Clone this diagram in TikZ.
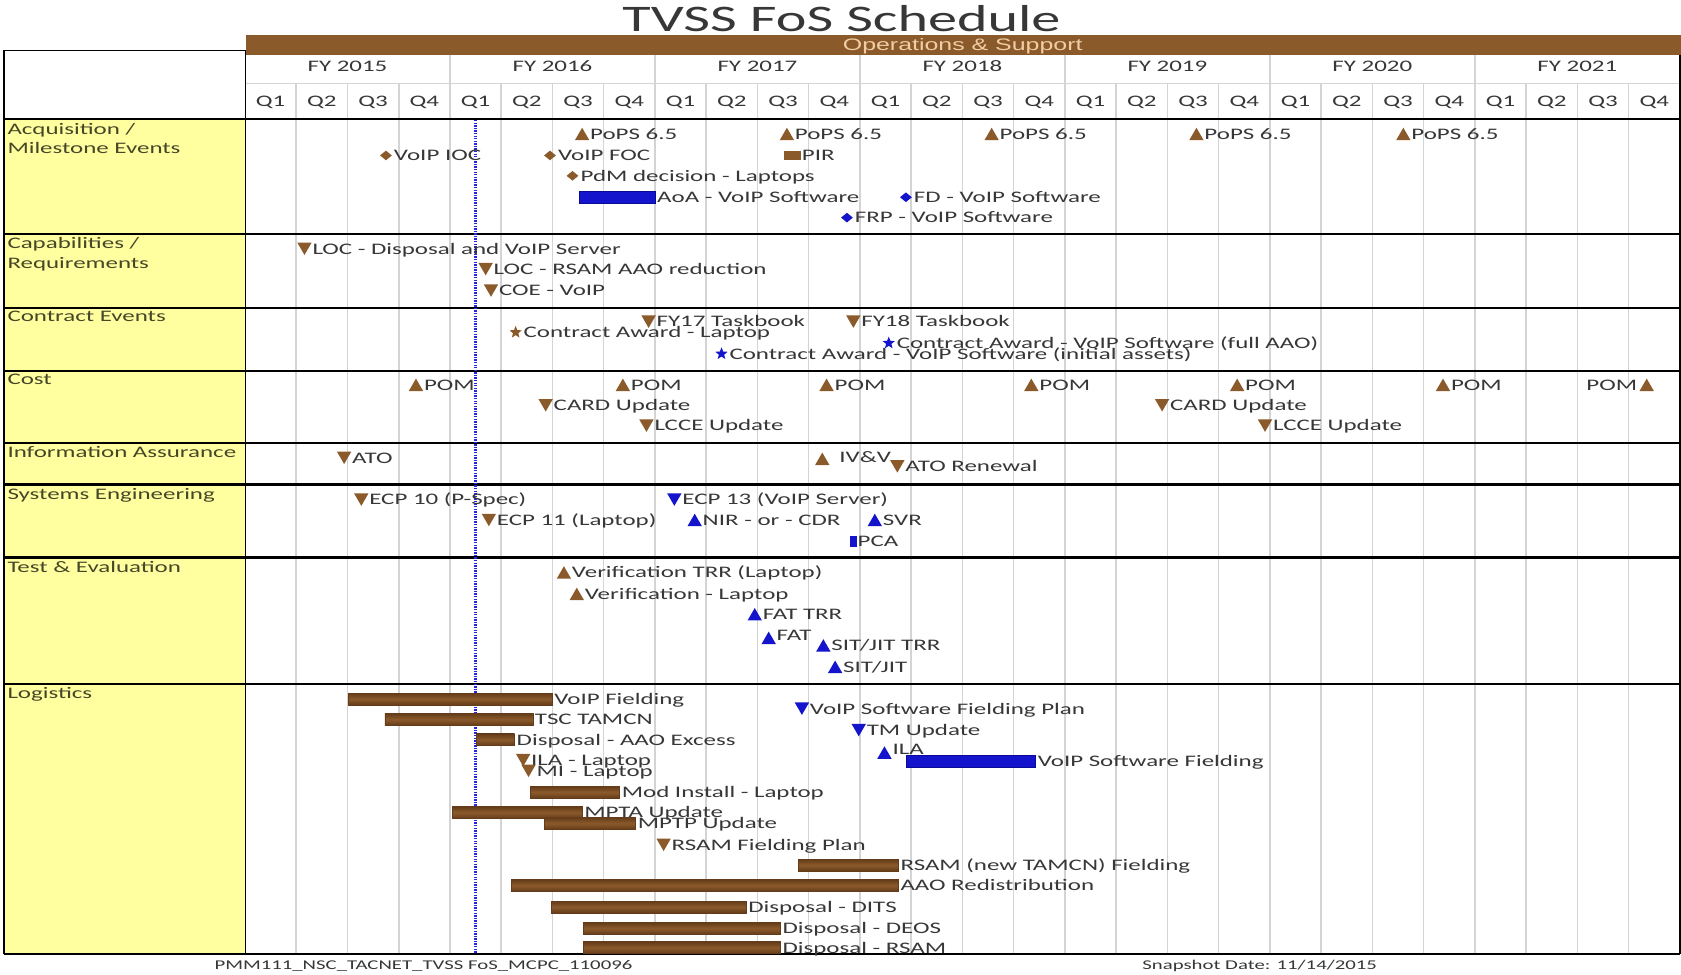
\documentclass[tikz,border=0pt]{standalone}
\usepackage{fontspec}
\setmainfont{Carlito}[FakeStretch=1.55]
\newfontfamily\arialx{Liberation Sans}[FakeStretch=1.5]
\usetikzlibrary{shapes.geometric}
\definecolor{brn}{RGB}{139,90,43}
\definecolor{brnD}{RGB}{100,60,25}
\definecolor{blu}{RGB}{20,20,205}
\definecolor{bluD}{RGB}{10,10,150}
\definecolor{dotblu}{RGB}{35,35,225}
\definecolor{yel}{RGB}{255,255,160}
\definecolor{txt}{RGB}{55,55,55}
\definecolor{rowtxt}{RGB}{70,70,40}
\definecolor{gridc}{RGB}{212,212,212}
\definecolor{bandtxt}{RGB}{240,205,165}
\newcommand\fs{\fontsize{15}{18}\selectfont}
\newcommand\evt[5]{%
  \node[#2] (#1) at (#3,#4) {};
  \node[lbl] (#1-t) at (#3+7.5,#4+5) {#5};}
\newcommand\evbar[6]{%
  \node[#2, minimum width={#4-#3}, anchor=west] (#1) at (#3,#5) {};
  \node[lbl] (#1-t) at (#4+2,#5+5) {#6};}
\begin{document}
\begin{tikzpicture}[x=1pt,y=-1pt,
  every node/.style={inner sep=0pt, outer sep=0pt},
  lbl/.style={anchor=base west, font=\fs, text=txt},
  rowlbl/.style={anchor=base west, font=\fs, text=rowtxt},
  tu/.style={regular polygon, regular polygon sides=3, minimum size=15.5pt, fill=brn, yshift=-1.9pt},
  td/.style={regular polygon, regular polygon sides=3, regular polygon rotate=180, minimum size=15.5pt, fill=brn, yshift=1.9pt},
  tub/.style={tu, fill=blu},
  tdb/.style={td, fill=blu},
  dm/.style={diamond, minimum width=11pt, minimum height=9pt, fill=brn},
  dmb/.style={dm, fill=blu},
  st/.style={star, star points=5, star point ratio=2.3, minimum size=12pt, fill=brn},
  stb/.style={st, fill=blu},
  bbar/.style={rectangle, minimum height=11pt, top color=brnD, bottom color=brnD, middle color=brn, draw=brnD, line width=0.6pt},
  ubar/.style={rectangle, minimum height=11pt, fill=blu, draw=bluD, line width=0.5pt},
  gridl/.style={draw=gridc, line width=1.5pt},
  rowl/.style={draw=black, line width=2.2pt}]
\useasboundingbox (0,0) rectangle (1568,909);
\fill[white] (0,0) rectangle (1568,909);
% title
\node[font=\fontsize{35}{40}\selectfont, text=txt, anchor=base] (title) at (785,29) {TVSS FoS Schedule};
% band
\node[fill=brn, minimum width=1339pt, minimum height=18pt, anchor=north west] (band) at (229,33) {};
\node[font=\arialx\fontsize{15.5}{18}\selectfont, text=bandtxt, anchor=base] (ops) at (898,47) {Operations \& Support};
% yellow column
\fill[yel] (4,111) rectangle (229,890);
% grid
\foreach \k in {1,...,27} \draw[gridl] (228.5+47.8*\k,78) -- (228.5+47.8*\k,890);
\foreach \k in {4,8,...,24} \draw[gridl] (228.5+47.8*\k,51) -- (228.5+47.8*\k,78);
\draw[gridl] (229,78) -- (1567,78);
% FY and Q labels
\foreach \i in {0,...,6} {
  \pgfmathtruncatemacro\yr{2015+\i}
  \node[font=\fs, text=txt, anchor=base] (fy\i) at (228.5+47.8*4*\i+47.8*2,67) {FY \yr};
  \foreach \q in {1,...,4}
    \node[font=\fs, text=txt, anchor=base] (q\i\q) at (228.5+47.8*4*\i+47.8*\q-23.9,99) {Q\q};
}
% row lines and borders
\foreach \yy in {111,218,287,346,413,452,520,638,890} \draw[rowl] (4,\yy) -- (1567,\yy);
\draw[black, line width=1.5pt] (4,47) rectangle (229,111);
\draw[black, line width=1.5pt] (4,111) -- (4,890);
\draw[black, line width=1.8pt] (229,47) -- (229,890);
\draw[black, line width=1.5pt] (1567,51) -- (1567,890);
% row labels
\node[rowlbl] (r1a) at (7,125) {Acquisition /};
\node[rowlbl] (r1b) at (7,143) {Milestone Events};
\node[rowlbl] (r2a) at (7,232) {Capabilities /};
\node[rowlbl] (r2b) at (7,250) {Requirements};
\node[rowlbl] (r3) at (7,300) {Contract Events};
\node[rowlbl] (r4) at (7,359) {Cost};
\node[rowlbl] (r5) at (7,427) {Information Assurance};
\node[rowlbl] (r6) at (7,466) {Systems Engineering};
\node[rowlbl] (r7) at (7,534) {Test \& Evaluation};
\node[rowlbl] (r8) at (7,652) {Logistics};
% snapshot line
\draw[dotblu, dash pattern=on 1.3pt off 1.1pt, line width=2pt] (443.5,112) -- (443.5,889);
% Acquisition / Milestone
\evt{a1}{tu}{543}{125}{PoPS 6.5}
\evt{a2}{tu}{734}{125}{PoPS 6.5}
\evt{a3}{tu}{925}{125}{PoPS 6.5}
\evt{a4}{tu}{1116}{125}{PoPS 6.5}
\evt{a5}{tu}{1309}{125}{PoPS 6.5}
\evt{a6}{dm}{360}{145}{VoIP IOC}
\evt{a7}{dm}{513}{145}{VoIP FOC}
\node[fill=brn, minimum width=16pt, minimum height=8pt] (a8) at (739,145) {};
\node[lbl] (a8-t) at (748,150) {PIR};
\evt{a9}{dm}{534}{164}{PdM decision - Laptops}
\evbar{a10}{ubar}{540}{611}{184}{AoA - VoIP Software}
\evt{a11}{dmb}{845}{184}{FD - VoIP Software}
\evt{a12}{dmb}{790}{203}{FRP - VoIP Software}
% Capabilities
\evt{c1}{td}{284}{232}{LOC - Disposal and VoIP Server}
\evt{c2}{td}{453}{251}{LOC - RSAM AAO reduction}
\evt{c3}{td}{458}{271}{COE - VoIP}
% Contract events
\evt{k1}{td}{605}{300}{FY17 Taskbook}
\evt{k2}{td}{796}{300}{FY18 Taskbook}
\evt{k3}{st}{481}{310}{Contract Award - Laptop}
\evt{k4}{stb}{829}{320}{Contract Award - VoIP Software (full AAO)}
\evt{k5}{stb}{673}{330}{Contract Award - VoIP Software (initial assets)}
% Cost
\evt{m1}{tu}{388}{359}{POM}
\evt{m2}{tu}{581}{359}{POM}
\evt{m3}{tu}{771}{359}{POM}
\evt{m4}{tu}{962}{359}{POM}
\evt{m5}{tu}{1154}{359}{POM}
\evt{m6}{tu}{1346}{359}{POM}
\node[tu] (m7) at (1536,359) {};
\node[lbl, anchor=base east] (m7-t) at (1527,364) {POM};
\evt{m8}{td}{509}{378}{CARD Update}
\evt{m9}{td}{1084}{378}{CARD Update}
\evt{m10}{td}{603}{397}{LCCE Update}
\evt{m11}{td}{1180}{397}{LCCE Update}
% Information Assurance
\evt{i1}{td}{321}{427}{ATO}
\node[tu] (i2) at (767,428) {};
\node[lbl] (i2-t) at (783,431) {IV\&V};
\evt{i3}{td}{837}{435}{ATO Renewal}
% Systems Engineering
\evt{s1}{td}{337}{466}{ECP 10 (P-Spec)}
\evt{s2}{td}{456}{485}{ECP 11 (Laptop)}
\evt{s3}{tdb}{629}{466}{ECP 13 (VoIP Server)}
\evt{s4}{tub}{648}{485}{NIR - or - CDR}
\evt{s5}{tub}{816}{485}{SVR}
\node[fill=blu, minimum width=6pt, minimum height=11pt] (s6) at (796,505) {};
\node[lbl] (s6-t) at (800,510) {PCA};
% Test & Evaluation
\evt{t1}{tu}{526}{534}{Verification TRR (Laptop)}
\evt{t2}{tu}{538}{554}{Verification - Laptop}
\evt{t3}{tub}{704}{573}{FAT TRR}
\node[tub] (t4) at (717,595) {};
\node[lbl] (t4-t) at (724.5,597) {FAT};
\evt{t5}{tub}{768}{602}{SIT/JIT TRR}
\evt{t6}{tub}{779}{622}{SIT/JIT}
% Logistics
\evbar{l1}{bbar}{325}{515}{652}{VoIP Fielding}
\evbar{l2}{bbar}{359}{497}{671}{TSC TAMCN}
\evbar{l3}{bbar}{444}{480}{690}{Disposal - AAO Excess}
\evt{l4}{td}{488}{709}{ILA - Laptop}
\evt{l5}{td}{493}{719}{MI - Laptop}
\evbar{l6}{bbar}{495}{578}{739}{Mod Install - Laptop}
\evbar{l7}{bbar}{422}{543}{758}{MPTA Update}
\evbar{l8}{bbar}{508}{593}{768}{MPTP Update}
\evt{l9}{td}{619}{788}{RSAM Fielding Plan}
\evbar{l10}{bbar}{745}{838}{807}{RSAM (new TAMCN) Fielding}
\evbar{l11}{bbar}{477}{838}{826}{AAO Redistribution}
\evbar{l12}{bbar}{514}{696}{846}{Disposal - DITS}
\evbar{l13}{bbar}{544}{728}{866}{Disposal - DEOS}
\evbar{l14}{bbar}{544}{728}{884}{Disposal - RSAM}
\evt{l15}{tdb}{748}{661}{VoIP Software Fielding Plan}
\evt{l16}{tdb}{801}{681}{TM Update}
\node[tub] (l17) at (825,702) {};
\node[lbl] (l17-t) at (832.5,704) {ILA};
\evbar{l18}{ubar}{845}{966}{710}{VoIP Software Fielding}
% footer
\node[font=\fontsize{12.5}{14}\selectfont, text=txt, anchor=base] (foot1) at (395,904) {PMM111\_NSC\_TACNET\_TVSS FoS\_MCPC\_110096};
\node[font=\fontsize{12.5}{14}\selectfont, text=txt, anchor=base] (foot2) at (1175,904) {Snapshot Date: 11/14/2015};
\end{tikzpicture}
\end{document}
